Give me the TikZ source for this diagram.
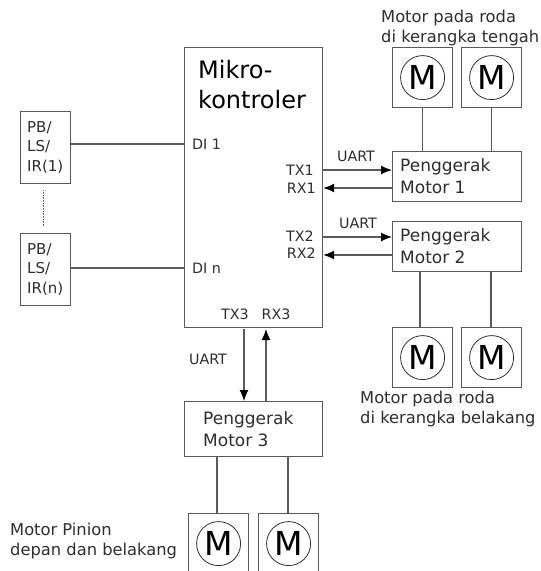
\documentclass[tikz,border=0pt]{standalone}
\usepackage{fontspec}
\setmainfont{DejaVu Sans}
\usetikzlibrary{arrows.meta,positioning,calc}
\definecolor{ink}{HTML}{2E2E2E}
\definecolor{edge}{HTML}{5A5A5A}

\begin{document}
\begin{tikzpicture}[
  x=1pt, y=-1pt,
  box/.style={draw=edge, line width=1.2pt, inner sep=0pt, anchor=north west},
  sensor/.style={box, minimum width=50pt, minimum height=72pt},
  driver/.style={box, minimum width=129pt, minimum height=50pt},
  motorbox/.style={box, minimum width=60pt, minimum height=60pt},
  rotor/.style={circle, draw=ink, line width=0.8pt, minimum size=44pt, inner sep=0pt, font=\fontsize{33}{33}\selectfont, text=black},
  lbl/.style={font=\fontsize{14.3}{18}\selectfont, text=ink, inner sep=0pt},
  head/.style={font=\fontsize{17}{21.5}\selectfont, text=ink, inner sep=0pt, align=left, anchor=west},
  note/.style={font=\fontsize{16.3}{20.8}\selectfont, text=ink, inner sep=0pt, align=left, anchor=west},
  wire/.style={draw=edge, line width=1.2pt},
  arrow/.style={-{Latex[length=11pt,width=9pt,color=black]}, draw=edge, line width=1.2pt}
]
\useasboundingbox (0,0) rectangle (541,571);
\clip (0,0) rectangle (541,571);

% ---------- Mikrokontroler ----------
\node[box, minimum width=138pt, minimum height=280pt] (mcu) at (184,47) {};
\node[font=\fontsize{24}{30.5}\selectfont, text=black, inner sep=0pt, align=left, anchor=north west] (mcutext) at (198,60) {Mikro-\\kontroler};

% ---------- Sensor ----------
\node[sensor] (pb1) at (20,111) {};
\node[sensor] (pbn) at (20,233) {};
\node[lbl, align=left, anchor=north west, font=\fontsize{15}{19.5}\selectfont] (pb1text) at (27,121) {PB/\\LS/\\IR(1)};
\node[lbl, align=left, anchor=north west, font=\fontsize{15}{19.5}\selectfont] (pbntext) at (27,243) {PB/\\LS/\\IR(n)};
\draw[edge, line width=0.6pt, densely dotted] ($(pb1.south)+(-2,6)$) -- ($(pbn.north)+(-2,-7)$);
\node[lbl, anchor=west] (di1) at (192,144) {DI 1};
\node[lbl, anchor=west] (din) at (192,268) {DI n};
\draw[wire] (pb1.east |- di1) -- (mcu.west |- di1);
\draw[wire] (pbn.east |- din) -- (mcu.west |- din);

% ---------- Penggerak ----------
\node[driver] (drv1) at (392,151) {};
\node[driver] (drv2) at (392,221) {};
\node[driver, minimum width=138pt, minimum height=55pt] (drv3) at (184,401) {};
\node[head] (drv1text) at (400,176) {Penggerak\\Motor 1};
\node[head] (drv2text) at (400,246) {Penggerak\\Motor 2};
\node[head] (drv3text) at (203,429) {Penggerak\\Motor 3};

% ---------- Motor ----------
\foreach \name/\x/\y in {ma/392/47, mb/461/47, mc/392/327, md/461/327, me/188/513, mf/258/513} {
  \node[motorbox] (\name) at (\x,\y) {};
  \node[rotor] (\name r) at (\name.center) {M};
}
\draw[wire] (ma.south) -- (ma.south |- drv1.north);
\draw[wire] (mb.south) -- (mb.south |- drv1.north);
\draw[wire] ($(drv2.south west)+(28,0)$) -- ($(mc.north west)+(28,0)$);
\draw[wire] ($(drv2.south west)+(99,0)$) -- ($(md.north west)+(30,0)$);
\draw[wire] ($(drv3.south west)+(33,0)$) -- ($(me.north west)+(29,0)$);
\draw[wire] ($(drv3.south west)+(104,0)$) -- ($(mf.north west)+(30,0)$);

% ---------- Sinyal UART ----------
\node[lbl, anchor=east] (tx1) at (314,170) {TX1};
\node[lbl, anchor=east] (rx1) at (316,188) {RX1};
\node[lbl, anchor=east] (tx2) at (314,236) {TX2};
\node[lbl, anchor=east] (rx2) at (316,253) {RX2};
\coordinate (tx1pin) at (322,170);
\coordinate (rx1pin) at (322,188);
\coordinate (tx2pin) at (322,237);
\coordinate (rx2pin) at (322,255);
\draw[arrow] (mcu.east |- tx1pin) -- (drv1.west |- tx1pin);
\draw[arrow] (drv1.west |- rx1pin) -- (mcu.east |- rx1pin);
\draw[arrow] (mcu.east |- tx2pin) -- (drv2.west |- tx2pin);
\draw[arrow] (drv2.west |- rx2pin) -- (mcu.east |- rx2pin);
\node[lbl] (uart1) at (356,156) {UART};
\node[lbl] (uart2) at (358,223) {UART};
\node[lbl] (uart3) at (208,359) {UART};
\node[lbl] (tx3) at (235,314) {TX3};
\node[lbl] (rx3) at (276,314) {RX3};
\coordinate (tx3pin) at (244,329);
\coordinate (rx3pin) at (266,329);
\draw[arrow] (tx3pin) -- (tx3pin |- drv3.north);
\draw[arrow] (rx3pin |- drv3.north) -- (rx3pin);

% ---------- Keterangan ----------
\node[note] (notetop) at (381,28) {Motor pada roda\\di kerangka tengah};
\node[note] (noteback) at (360,409) {Motor pada roda\\di kerangka belakang};
\node[note] (notepin) at (10,541) {Motor Pinion\\depan dan belakang};
\end{tikzpicture}
\end{document}
